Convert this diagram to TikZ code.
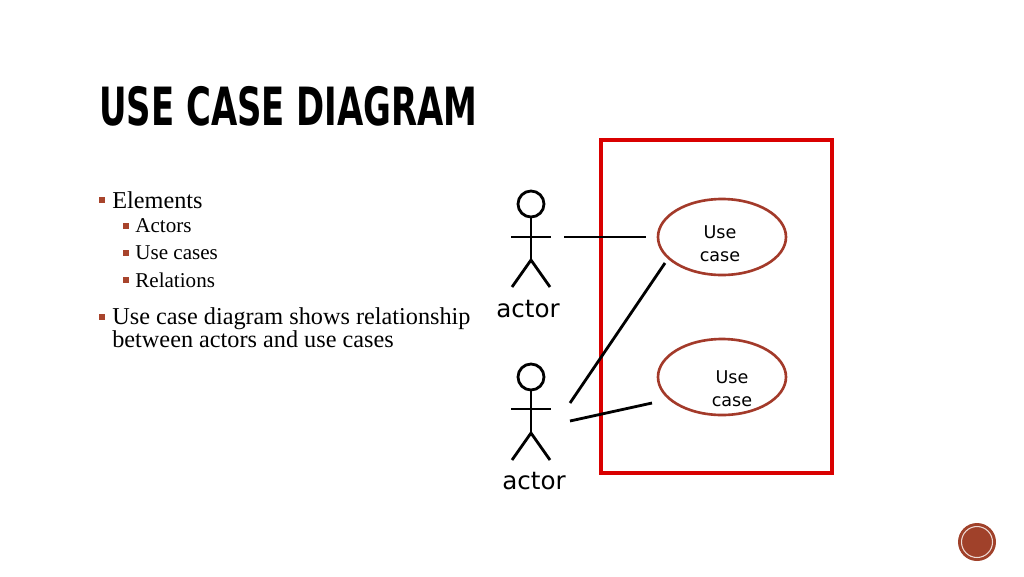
\documentclass[tikz,border=0pt]{standalone}
\usepackage{fontspec}
\usetikzlibrary{shapes.geometric}
\setmainfont{Liberation Serif}
\newfontfamily\titlefont{DejaVu Sans Condensed}
\newfontfamily\comicfont{DejaVu Sans}
\definecolor{brn}{HTML}{A8442C}
\definecolor{ellc}{HTML}{A33A2A}
\begin{document}
\begin{tikzpicture}[x=0.02cm,y=-0.02cm,
  stick/.style={line width=1.6pt},
  uc/.style={draw=ellc,line width=1.5pt,ellipse,minimum width=128*0.02cm,minimum height=76*0.02cm,inner sep=0pt},
  bul/.style={fill=brn,minimum size=3.5pt,inner sep=0pt},
  conn/.style={line width=1.6pt}]
\useasboundingbox (0,0) rectangle (1024,576);
\node[anchor=west,inner sep=0pt] (title) at (99,106) {\titlefont\bfseries\fontsize{30}{30}\selectfont\scalebox{0.715}[1.0]{USE CASE DIAGRAM}};
\node[bul] (b1) at (102,200) {};
\node[anchor=west,inner sep=0pt,font=\fontsize{13.8}{14}\selectfont] (t1) at (112,200) {Elements};
\node[bul] (b2) at (126,226) {};
\node[anchor=west,inner sep=0pt,font=\fontsize{12}{12}\selectfont] (t2) at (135,226) {Actors};
\node[bul] (b3) at (126,253) {};
\node[anchor=west,inner sep=0pt,font=\fontsize{12}{12}\selectfont] (t3) at (135,253) {Use cases};
\node[bul] (b4) at (126,280) {};
\node[anchor=west,inner sep=0pt,font=\fontsize{12}{12}\selectfont] (t4) at (135,280) {Relations};
\node[bul] (b5) at (102,317) {};
\node[anchor=north west,inner sep=0pt,align=left,font=\fontsize{13.8}{13.5}\selectfont] (t5) at (112,307) {Use case diagram shows relationship\\between actors and use cases};
% frame
\draw[red!85!black,line width=1.8pt] (601,140) rectangle (832,473);
% actor 1
\node[draw,circle,line width=1.6pt,minimum size=26*0.02cm,inner sep=0pt] (h1) at (531,204) {};
\draw[stick] (h1.south) -- (531,260) coordinate (w1);
\draw[stick] (511,237) -- (551,237);
\draw[stick] (512,287) -- (w1) -- (550,287);
\node[font=\comicfont\fontsize{14}{14}\selectfont] (a1) at (528,309) {actor};
% actor 2
\node[draw,circle,line width=1.6pt,minimum size=26*0.02cm,inner sep=0pt] (h2) at (531,377) {};
\draw[stick] (h2.south) -- (531,433) coordinate (w2);
\draw[stick] (511,409) -- (551,409);
\draw[stick] (512,460) -- (w2) -- (550,460);
\node[font=\comicfont\fontsize{14}{14}\selectfont] (a2) at (534,481) {actor};
% use cases
\node[uc] (u1) at (722,237) {};
\node[align=center,font=\comicfont\fontsize{10}{13}\selectfont] (u1t) at (720,244) {Use\\case};
\node[uc] (u2) at (722,377) {};
\node[align=center,font=\comicfont\fontsize{10}{13}\selectfont] (u2t) at (732,389) {Use\\case};
% connectors
\coordinate (c1) at (564,237); \coordinate (c1e) at (646,237);
\draw[conn] (c1) -- (c1e);
\coordinate (c2) at (570,403); \coordinate (c2e) at (665,263);
\draw[conn] (c2) -- (c2e);
\coordinate (c3) at (570,421); \coordinate (c3e) at (652,403);
\draw[conn] (c3) -- (c3e);
% page badge
\node[circle,fill=brn!95!black,minimum size=38*0.02cm,inner sep=0pt] (pg) at (977,542) {};
\draw[white!80!brn,line width=0.6pt] (pg.center) circle[radius=15.5*0.02cm];
\end{tikzpicture}
\end{document}
